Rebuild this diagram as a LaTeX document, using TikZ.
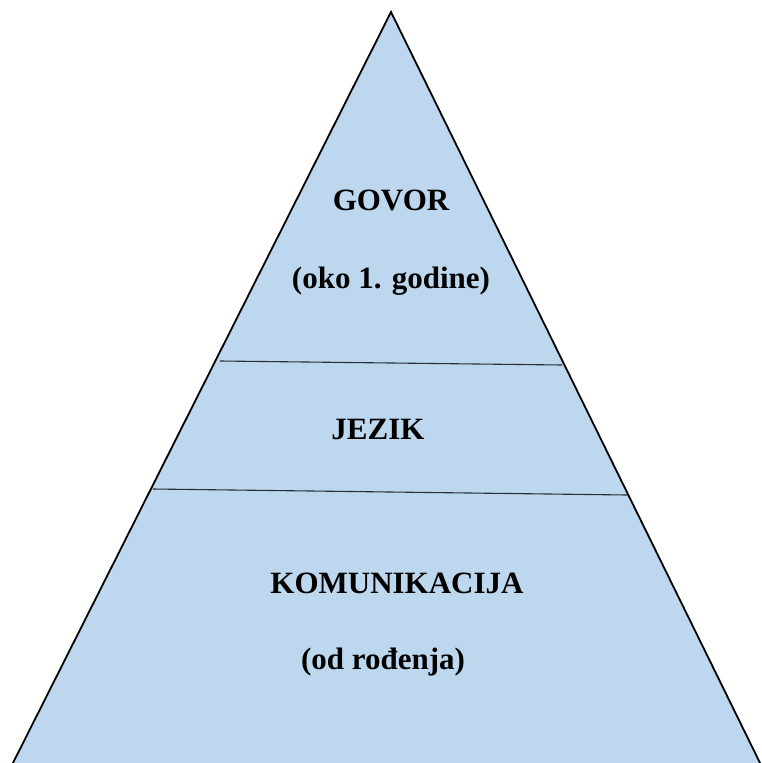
\documentclass[tikz,border=0pt]{standalone}
\usepackage{fontspec}
\setmainfont{Liberation Serif}
\definecolor{pyrfill}{RGB}{189,215,238}
\definecolor{divline}{RGB}{40,45,55}
\begin{document}
\begin{tikzpicture}[x=1pt,y=-1pt,
  lbl/.style={anchor=base,inner sep=0pt,font=\fontsize{31}{36}\selectfont\bfseries},
  edge/.style={draw=black,line width=1.8pt,line join=miter},
  divider/.style={draw=divline,line width=1.1pt}]
\useasboundingbox (0,0) rectangle (761,763);
\clip (0,0) rectangle (761,763);
\coordinate (apex) at (391,12);
\coordinate (bl) at (4.4,780);
\coordinate (br) at (768.4,780);
\filldraw[fill=pyrfill,edge] (bl) -- (apex) -- (br) -- cycle;
\coordinate (d1l) at (220,361);
\coordinate (d1r) at (562,365);
\coordinate (d2l) at (153,489);
\coordinate (d2r) at (627,495);
\draw[divider] (d1l) -- (d1r);
\draw[divider] (d2l) -- (d2r);
\node[lbl] (govor) at (391,210) {GOVOR};
\node[lbl] (oko) at (391,288) {(oko 1. godine)};
\node[lbl] (jezik) at (378,439) {JEZIK};
\node[lbl] (kom) at (397,593) {KOMUNIKACIJA};
\node[lbl] (od) at (383,669) {(od rođenja)};
\end{tikzpicture}
\end{document}
